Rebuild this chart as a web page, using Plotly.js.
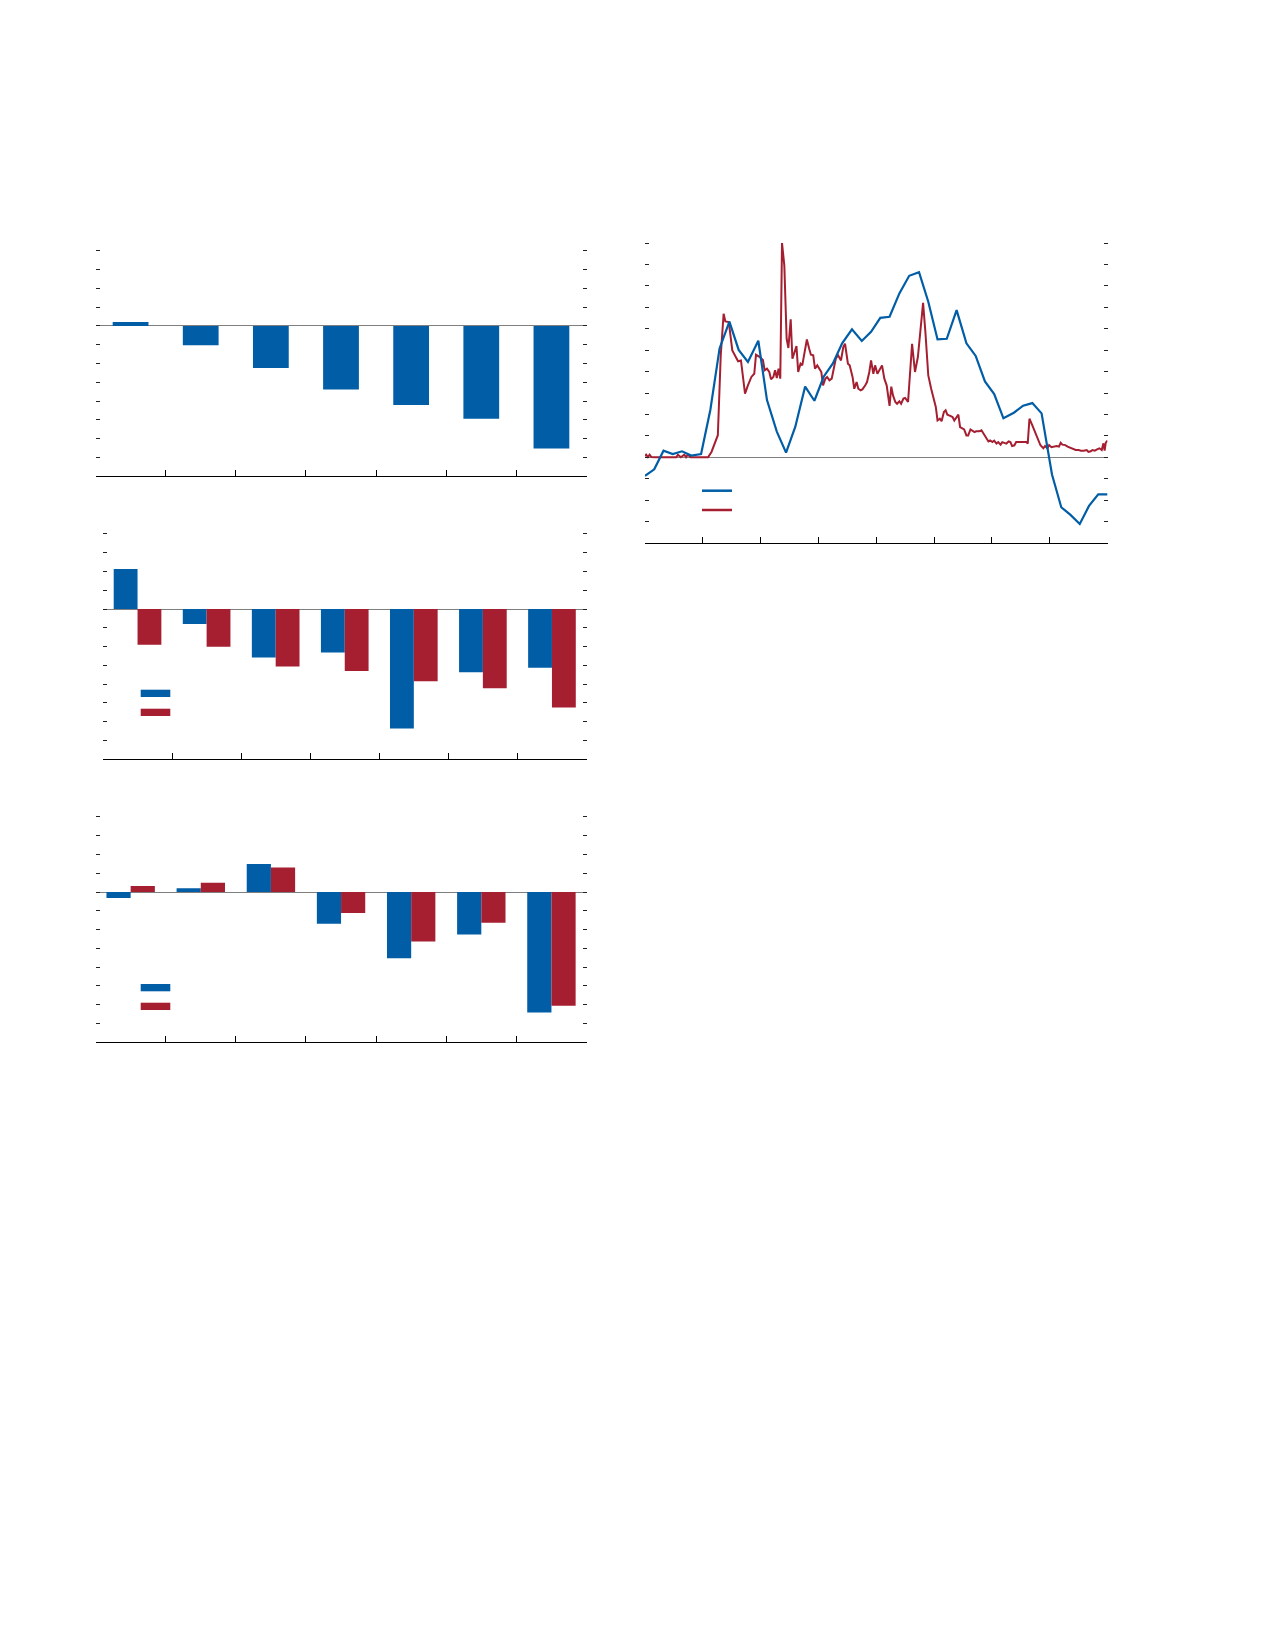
<!DOCTYPE html>
<html>
<head>
<meta charset="utf-8">
<script src="https://cdn.plot.ly/plotly-3.0.1.min.js"></script>
<style>
  html, body { margin: 0; padding: 0; background: #fff; }
  #chart { width: 1275px; height: 1650px; }
</style>
</head>
<body>
<div id="chart"></div>
<script>
// Colours
const BLUE = '#005DA6';
const RED = '#A51F31';

// Bar panels: seven periods each
const periods = [0, 1, 2, 3, 4, 5, 6];
const panelA = [0.21, -1.03, -2.24, -3.38, -4.21, -4.94, -6.52];
const panelBBlue = [2.13, -0.80, -2.58, -2.31, -6.36, -3.36, -3.13];
const panelBRed = [-1.90, -2.01, -3.06, -3.30, -3.84, -4.21, -5.24];
const panelCBlue = [-0.32, 0.21, 1.49, -1.69, -3.52, -2.26, -6.41];
const panelCRed = [0.32, 0.50, 1.31, -1.12, -2.63, -1.63, -6.06];

// Line panel: blue series (coarse), red series (fine)
const blueX = [0.00, 0.16, 0.32, 0.48, 0.64, 0.80, 0.97, 1.13, 1.29, 1.46, 1.62, 1.78, 1.96, 2.11, 2.28, 2.44,
  2.60, 2.77, 2.93, 3.09, 3.25, 3.41, 3.58, 3.75, 3.91, 4.07, 4.23, 4.40, 4.57, 4.74, 4.90, 5.06, 5.22, 5.39,
  5.56, 5.72, 5.88, 6.04, 6.20, 6.38, 6.54, 6.70, 6.86, 7.04, 7.20, 7.36, 7.52, 7.68, 7.84, 8.00];
const blueY = [-0.87, -0.56, 0.31, 0.15, 0.28, 0.08, 0.15, 2.21, 5.08, 6.33, 5.01, 4.45, 5.44, 2.67, 1.20, 0.22,
  1.43, 3.30, 2.64, 3.76, 4.38, 5.32, 5.97, 5.43, 5.86, 6.51, 6.56, 7.65, 8.47, 8.64, 7.26, 5.50, 5.53, 6.87,
  5.32, 4.73, 3.54, 2.95, 1.82, 2.08, 2.41, 2.53, 2.05, -0.80, -2.33, -2.69, -3.11, -2.27, -1.73, -1.73];

const redX = [0.00, 0.02, 0.05, 0.08, 0.11, 0.17, 0.54, 0.57, 0.62, 0.68, 0.71, 0.74, 0.79, 1.09, 1.15, 1.21,
  1.26, 1.31, 1.36, 1.39, 1.45, 1.51, 1.55, 1.61, 1.66, 1.73, 1.78, 1.84, 1.89, 1.92, 1.98, 2.04, 2.07, 2.11,
  2.15, 2.18, 2.22, 2.25, 2.28, 2.31, 2.34, 2.37, 2.41, 2.45, 2.48, 2.52, 2.55, 2.59, 2.62, 2.65, 2.69, 2.72,
  2.76, 2.80, 2.84, 2.87, 2.91, 2.94, 2.98, 3.01, 3.05, 3.08, 3.12, 3.15, 3.19, 3.23, 3.30, 3.34, 3.37, 3.39,
  3.43, 3.46, 3.51, 3.54, 3.59, 3.62, 3.66, 3.69, 3.73, 3.76, 3.81, 3.84, 3.88, 3.91, 3.95, 3.98, 4.02, 4.05,
  4.10, 4.14, 4.18, 4.23, 4.26, 4.29, 4.33, 4.36, 4.40, 4.43, 4.47, 4.50, 4.55, 4.62, 4.67, 4.72, 4.76, 4.81,
  4.85, 4.90, 4.95, 4.99, 5.03, 5.06, 5.10, 5.13, 5.17, 5.20, 5.23, 5.28, 5.32, 5.35, 5.39, 5.42, 5.45, 5.49,
  5.52, 5.56, 5.59, 5.63, 5.66, 5.70, 5.73, 5.78, 5.82, 5.86, 5.90, 5.94, 5.97, 6.01, 6.04, 6.08, 6.11, 6.15,
  6.18, 6.22, 6.25, 6.29, 6.32, 6.35, 6.39, 6.42, 6.47, 6.52, 6.56, 6.60, 6.62, 6.65, 6.70, 6.75, 6.79, 6.84,
  6.89, 6.92, 6.96, 6.99, 7.03, 7.07, 7.12, 7.16, 7.19, 7.22, 7.27, 7.31, 7.36, 7.40, 7.45, 7.50, 7.54, 7.59,
  7.64, 7.67, 7.71, 7.74, 7.78, 7.82, 7.86, 7.90, 7.93, 7.95, 7.97, 8.00];
const redY = [0.05, 0.12, 0.01, 0.12, 0.01, 0.00, 0.00, 0.12, 0.00, 0.12, 0.00, 0.12, 0.00, 0.00, 0.25, 0.64,
  1.03, 4.75, 6.70, 6.34, 6.31, 4.99, 4.76, 4.48, 4.52, 2.97, 3.36, 3.75, 3.90, 4.79, 4.69, 4.54, 4.06, 4.14,
  3.98, 3.64, 3.75, 4.06, 3.70, 4.14, 3.67, 10.0, 8.95, 5.53, 5.10, 6.44, 4.60, 4.99, 5.19, 3.98, 4.37, 4.29,
  4.84, 5.50, 5.07, 4.79, 4.76, 4.14, 4.29, 4.17, 3.98, 3.36, 3.67, 3.75, 3.59, 3.67, 4.60, 4.76, 4.60, 4.52,
  5.15, 5.30, 4.37, 4.29, 3.75, 3.20, 3.51, 3.20, 3.13, 3.17, 3.36, 3.51, 3.98, 4.52, 3.90, 4.29, 3.90, 4.06,
  4.29, 3.67, 3.36, 2.40, 3.30, 2.89, 2.58, 2.50, 2.61, 2.50, 2.74, 2.77, 2.58, 5.30, 3.98, 4.68, 5.85, 7.21,
  5.85, 3.82, 3.20, 2.81, 2.35, 1.72, 1.80, 1.68, 2.11, 2.19, 1.99, 1.93, 1.88, 1.72, 1.88, 1.99, 1.41, 1.33,
  1.30, 1.02, 1.02, 1.30, 1.26, 1.18, 1.21, 1.21, 1.26, 1.10, 0.90, 0.74, 0.79, 0.71, 0.78, 0.64, 0.71, 0.59,
  0.71, 0.68, 0.64, 0.74, 0.71, 0.53, 0.56, 0.71, 0.71, 0.71, 0.74, 0.71, 0.64, 1.80, 1.49, 1.18, 0.87, 0.56,
  0.42, 0.53, 0.42, 0.57, 0.47, 0.50, 0.53, 0.50, 0.68, 0.59, 0.57, 0.50, 0.45, 0.42, 0.34, 0.34, 0.31, 0.31,
  0.34, 0.25, 0.28, 0.34, 0.31, 0.37, 0.42, 0.34, 0.65, 0.31, 0.68, 0.78];

const W = 1275, H = 1650;
const px = v => v / W;          // page x pixel -> paper
const py = v => 1 - v / H;      // page y pixel -> paper

function xAxisBars(anchor, left, right) {
  return {
    domain: [px(left), px(right)], anchor: anchor,
    range: [-0.5, 6.5], tickvals: [0.5, 1.5, 2.5, 3.5, 4.5, 5.5],
    ticks: 'inside', ticklen: 6, tickwidth: 1, tickcolor: '#000',
    showticklabels: false, showgrid: false, zeroline: false,
    showline: true, linecolor: '#000', linewidth: 1, fixedrange: true
  };
}

// range top sits a little above the last tick, otherwise plotly clips that tick
function yAxisCommon(anchor, top, bottom, range, dtick) {
  return {
    domain: [py(bottom), py(top)], anchor: anchor,
    range: range, dtick: dtick, tick0: 0,
    ticks: 'inside', ticklen: 4, tickwidth: 1, tickcolor: '#222',
    mirror: 'ticks', showline: false,
    showticklabels: false, showgrid: false,
    zeroline: true, zerolinecolor: '#7f7f7f', zerolinewidth: 1, fixedrange: true
  };
}

const data = [
  { type: 'bar', x: periods, y: panelA, xaxis: 'x', yaxis: 'y', width: 0.51,
    marker: { color: BLUE, line: { width: 0 } }, showlegend: false, hoverinfo: 'y' },
  { type: 'bar', x: periods, y: panelBBlue, xaxis: 'x2', yaxis: 'y2',
    marker: { color: BLUE, line: { width: 0 } }, showlegend: false, hoverinfo: 'y' },
  { type: 'bar', x: periods, y: panelBRed, xaxis: 'x2', yaxis: 'y2',
    marker: { color: RED, line: { width: 0 } }, showlegend: false, hoverinfo: 'y' },
  { type: 'bar', x: periods, y: panelCBlue, xaxis: 'x3', yaxis: 'y3',
    marker: { color: BLUE, line: { width: 0 } }, showlegend: false, hoverinfo: 'y' },
  { type: 'bar', x: periods, y: panelCRed, xaxis: 'x3', yaxis: 'y3',
    marker: { color: RED, line: { width: 0 } }, showlegend: false, hoverinfo: 'y' },
  { type: 'scatter', mode: 'lines', x: redX, y: redY, xaxis: 'x4', yaxis: 'y4',
    line: { color: RED, width: 2 }, showlegend: false, hoverinfo: 'y' },
  { type: 'scatter', mode: 'lines', x: blueX, y: blueY, xaxis: 'x4', yaxis: 'y4',
    line: { color: BLUE, width: 2.2 }, showlegend: false, hoverinfo: 'y' }
];

// Legend keys have no text in the reference, so they are drawn as plain shapes
function keyRect(x0, x1, y0, y1, color) {
  return { type: 'rect', xref: 'paper', yref: 'paper',
    x0: px(x0), x1: px(x1), y0: py(y1), y1: py(y0),
    fillcolor: color, line: { width: 0 } };
}
function keyLine(x0, x1, y, color) {
  return { type: 'line', xref: 'paper', yref: 'paper',
    x0: px(x0), x1: px(x1), y0: py(y), y1: py(y),
    line: { color: color, width: 2.5 } };
}

const layout = {
  width: W, height: H,
  margin: { l: 0, r: 0, t: 0, b: 0 },
  paper_bgcolor: 'white', plot_bgcolor: 'white',
  showlegend: false,
  barmode: 'group', bargap: 0.31, bargroupgap: 0,

  xaxis: xAxisBars('y', 95.5, 586.5),
  yaxis: yAxisCommon('x', 248.8, 476.4, [-8, 4.1], 1),

  xaxis2: xAxisBars('y2', 103, 586.5),
  yaxis2: yAxisCommon('x2', 532.1, 759.3, [-8, 4.1], 1),

  xaxis3: xAxisBars('y3', 95.6, 586.5),
  yaxis3: yAxisCommon('x3', 815.1, 1042.3, [-8, 4.1], 1),

  xaxis4: {
    domain: [px(645), px(1107.5)], anchor: 'y4',
    range: [0, 8], tickvals: [1, 2, 3, 4, 5, 6, 7],
    ticks: 'inside', ticklen: 6, tickwidth: 1, tickcolor: '#000',
    showticklabels: false, showgrid: false, zeroline: false,
    showline: true, linecolor: '#000', linewidth: 1, fixedrange: true
  },
  yaxis4: yAxisCommon('x4', 240.9, 543, [-4, 10.1], 1),

  shapes: [
    keyRect(140.7, 170.3, 689.7, 697, BLUE),
    keyRect(140.7, 170.3, 708.7, 716, RED),
    keyRect(140.7, 170.3, 984, 991.3, BLUE),
    keyRect(140.7, 170.3, 1002.7, 1010, RED),
    keyLine(702, 732, 490.7, BLUE),
    keyLine(702, 732, 510, RED)
  ]
};

Plotly.newPlot('chart', data, layout, { displayModeBar: false, staticPlot: true });
</script>
</body>
</html>
